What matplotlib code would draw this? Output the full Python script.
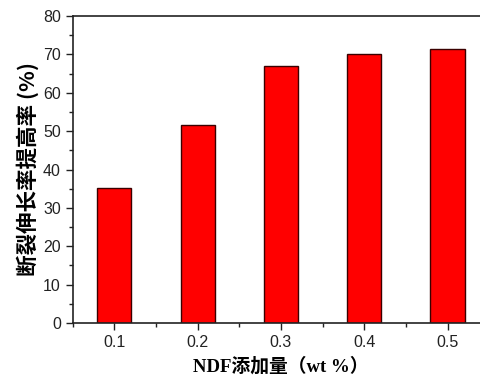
import matplotlib
matplotlib.use('Agg')
import matplotlib.pyplot as plt
from matplotlib.ticker import MultipleLocator

ndf = [0.1, 0.2, 0.3, 0.4, 0.5]
ratio = [35.1, 51.7, 66.9, 70.2, 71.5]
xlabels = ['0.1', '0.2', '0.3', '0.4', '0.5']

plt.rcParams['font.family'] = ['Liberation Sans', 'DejaVu Sans']

fig = plt.figure(figsize=(4.81, 3.80), dpi=100)
# axes runs a bit past the right edge, as in the reference crop
ax = fig.add_axes([72.7 / 481, 57 / 380, 416.5 / 481, 307 / 380])

ax.bar(ndf, ratio, width=0.041, color='#ff0000', edgecolor='#3a0000', linewidth=1.0)

ax.set_xlim(0.05, 0.55)
ax.set_ylim(0, 80)
ax.set_xticks(ndf)
ax.set_xticklabels(xlabels)
ax.xaxis.set_minor_locator(MultipleLocator(0.05))
ax.yaxis.set_major_locator(MultipleLocator(10))
ax.yaxis.set_minor_locator(MultipleLocator(5))
ax.tick_params(which='both', direction='out', labelsize=11.5, colors='#222222')
ax.tick_params(which='major', length=5, width=1)
ax.tick_params(which='minor', length=3, width=1)
for s in ax.spines.values():
    s.set_linewidth(1.2)
    s.set_color('#222222')

ax.set_ylabel('断裂伸长率提高率 (%)', family=['Noto Sans CJK SC', 'DejaVu Sans'],
              fontsize=15.5, fontweight='bold', labelpad=3)
ax.set_xlabel('NDF添加量（wt %）', family=['Liberation Serif', 'Noto Sans CJK SC'],
              fontsize=13.5, fontweight='bold', labelpad=5)

fig.savefig('out.png', dpi=100)
